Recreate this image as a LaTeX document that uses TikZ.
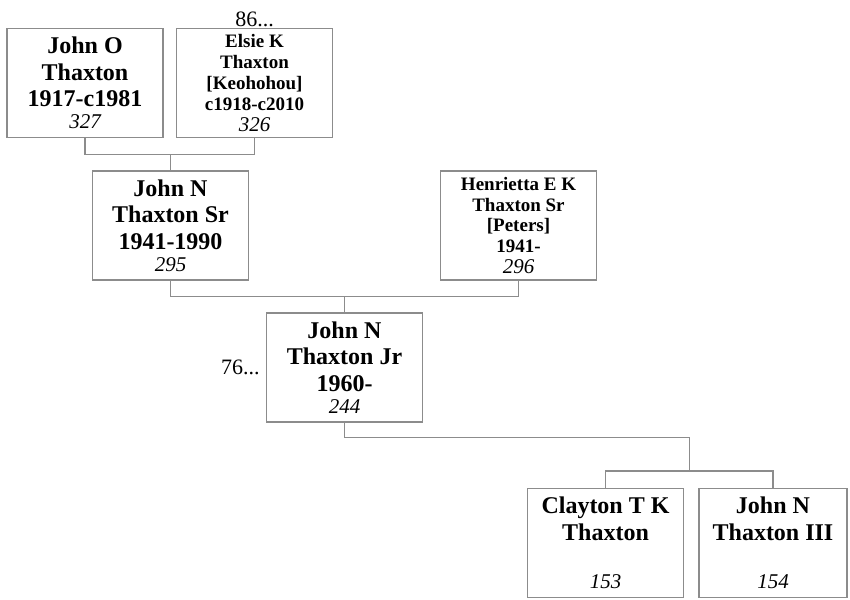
\documentclass[tikz,border=0pt]{standalone}
\usepackage{fontspec}
\setmainfont{Liberation Serif}
\usepackage{xcolor}
\usepackage{tikz}
\usetikzlibrary{positioning,calc}
\definecolor{frame}{RGB}{140,140,140}
\newcommand{\idno}[1]{{\mdseries\itshape\fontsize{21}{22}\selectfont #1}}

\begin{document}
\begin{tikzpicture}[
  x=1pt, y=-1pt,
  person/.style={draw=frame, line width=1.2pt, align=center, inner sep=0pt,
    minimum width=156pt, minimum height=109pt, font=\bfseries\fontsize{24}{26.5}\selectfont},
  tight/.style={person, font=\bfseries\fontsize{19}{20.8}\selectfont},
  link/.style={draw=frame, line width=1.2pt},
  more/.style={inner sep=1pt, font=\fontsize{22}{24}\selectfont},
]
\useasboundingbox (0,0) rectangle (850,599);
\node[person] (jo) at (85,83) {John O\\Thaxton\\1917-c1981\\[-4.5pt]\idno{327}};
\node[tight] (ek) at (254.5,83) {Elsie K\\Thaxton\\{[Keohohou]}\\c1918-c2010\\\idno{326}};
\node[person] (js) at (170.5,225.5) {John N\\Thaxton Sr\\1941-1990\\[-4.5pt]\idno{295}};
\node[tight] (he) at (518.5,225.5) {Henrietta E K\\Thaxton Sr\\{[Peters]}\\1941-\\\idno{296}};
\node[person] (jj) at (344.5,367.5) {John N\\Thaxton Jr\\1960-\\[-4.5pt]\idno{244}};
\node[person] (ct) at (605.5,543) {Clayton T K\\Thaxton\\\\[-4.5pt]\idno{153}};
\node[person, minimum width=148pt] (j3) at (773,543) {John N\\Thaxton III\\\\[-4.5pt]\idno{154}};
\node[more, anchor=south] (ekmore) at (ek.north) {86...};
\node[more, left=5pt of jj] (jjmore) {76...};
% parents
\draw[link] (jo.south) -- ++(0,16) coordinate (bar1) -| (ek.south);
\draw[link] (js.north) -- (js.north |- bar1);
\draw[link] (js.south) -- ++(0,16) coordinate (bar2) -| (he.south);
\draw[link] (jj.north) -- (jj.north |- bar2);
% children
\coordinate (kids) at ($(ct.north)!0.5!(j3.north) + (0,-17)$);
\draw[link] (jj.south) -- ++(0,15) -| (kids);
\draw[link] (ct.north) |- (kids) -| (j3.north);
\end{tikzpicture}
\end{document}
